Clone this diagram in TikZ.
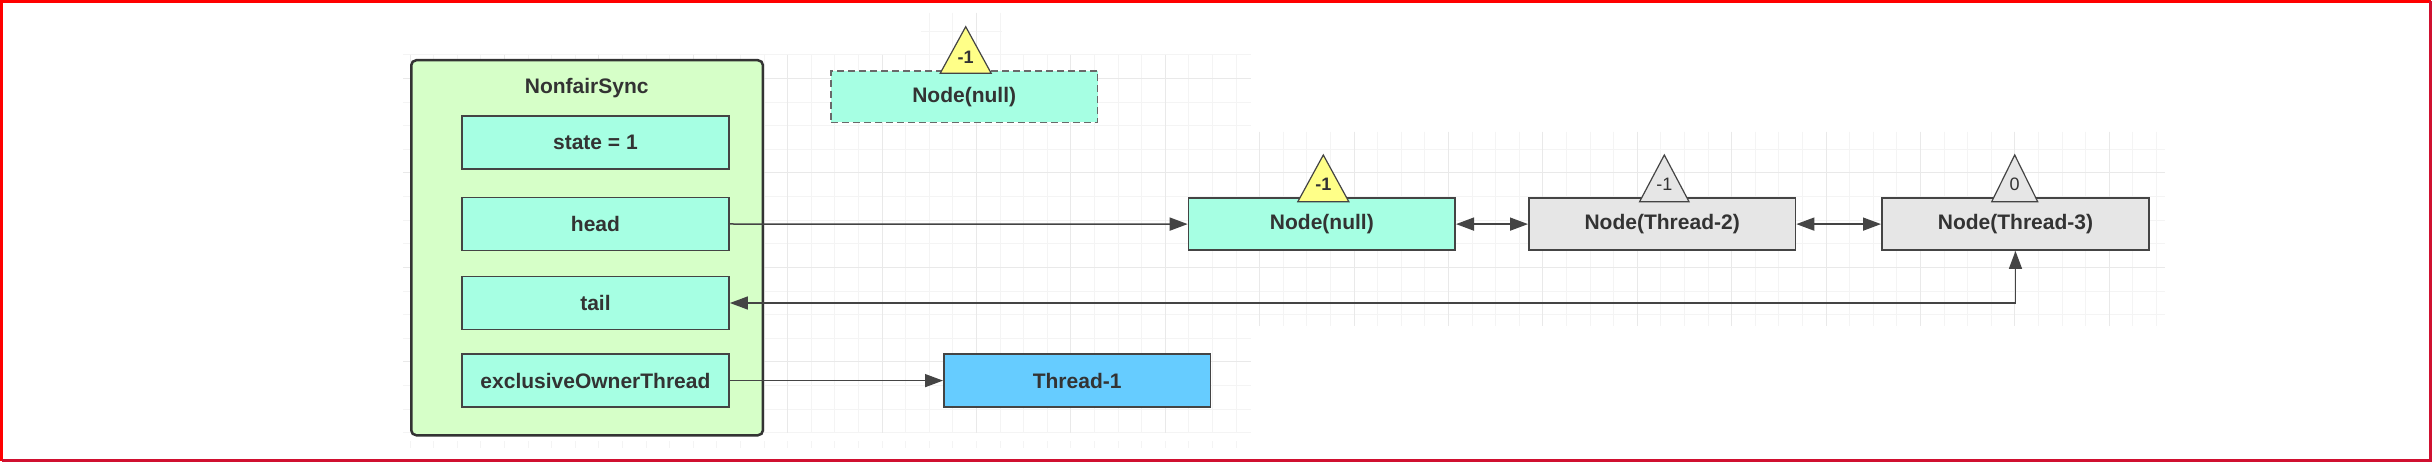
\documentclass[tikz,border=0pt]{standalone}
\usepackage{fontspec}
\setmainfont{Liberation Sans}
\usetikzlibrary{arrows.meta}
\definecolor{txt}{HTML}{333333}
\definecolor{outerfill}{HTML}{D6FFC8}
\definecolor{aqua}{HTML}{A6FFE3}
\definecolor{nodegray}{HTML}{E6E6E6}
\definecolor{threadblue}{HTML}{66CCFF}
\definecolor{triyellow}{HTML}{FFFF88}
\definecolor{edge}{HTML}{444444}
\definecolor{gridminor}{HTML}{F4F4F4}
\definecolor{gridmajor}{HTML}{E9E9E9}
\definecolor{frameA}{HTML}{FF0000}
\definecolor{frameB}{HTML}{D01030}
\begin{document}
\begin{tikzpicture}[x=1pt,y=-1pt,
  gminor/.style={draw=gridminor, line width=1pt},
  gmajor/.style={draw=gridmajor, line width=1pt},
  lbl/.style={font=\fontsize{21}{25}\selectfont\bfseries, text=txt},
  box/.style={draw=edge, line width=1.6pt, inner sep=0pt, anchor=north west,
    font=\fontsize{21}{25}\selectfont\bfseries, text=txt},
  fieldbox/.style={box, fill=aqua, minimum width=267.3pt, minimum height=53pt},
  qbox/.style={box, minimum width=266.7pt, minimum height=52pt},
  tri/.style={draw=edge, line width=1.2pt},
  trilbl/.style={font=\fontsize{18}{20}\selectfont, text=txt},
  conn/.style={draw=edge, line width=1.5pt, -{Triangle[length=18pt,width=13pt]}},
  biconn/.style={draw=edge, line width=1.5pt, {Triangle[length=18pt,width=13pt]}-{Triangle[length=18pt,width=13pt]}}
]
\useasboundingbox (0,0) rectangle (2432,462);
\fill[white] (0,0) rectangle (2432,462);
% background grid
\foreach \k in {0,...,35} {\draw[gminor] ({410+\k*23.6},55) -- ({410+\k*23.6},433);
  \draw[gminor] ({410+\k*23.6},441) -- ({410+\k*23.6},448);}
\foreach \j in {0,...,16} {\draw[gminor] (403,{55+\j*23.6}) -- (1251,{55+\j*23.6});}
\foreach \k in {32,...,74} {\draw[gminor] ({410+\k*23.6},132) -- ({410+\k*23.6},326);}
\foreach \j in {4,...,11} {\draw[gminor] (1148,{55+\j*23.6}) -- (2165,{55+\j*23.6});}
\foreach \k in {22,...,25} {\draw[gminor] ({410+\k*23.6},13) -- ({410+\k*23.6},55);}
\draw[gminor] (921,31.4) -- (1002,31.4);
\foreach \k in {0,4,...,32} {\draw[gmajor] ({410+\k*23.6},55) -- ({410+\k*23.6},433);}
\foreach \k in {36,40,...,72} {\draw[gmajor] ({410+\k*23.6},132) -- ({410+\k*23.6},326);}
\foreach \j in {1,5,9,13} {\draw[gmajor] (403,{55+\j*23.6}) -- (1251,{55+\j*23.6});}
\foreach \j in {5,9} {\draw[gmajor] (1251,{55+\j*23.6}) -- (2165,{55+\j*23.6});}
\draw[gmajor] ({410+24*23.6},13) -- ({410+24*23.6},55);
% frame
\draw[frameA, line width=3pt] (1.5,461) -- (1.5,1.5) -- (2431,1.5);
\draw[frameB, line width=2.5pt] (2430.5,1.5) -- (2430.5,460.5) -- (1.5,460.5);
% NonfairSync container
\node[box, draw=txt, line width=2.5pt, fill=outerfill, rounded corners=5pt,
  minimum width=351.7pt, minimum height=375pt] (sync) at (410,59) {};
\node[lbl] (title) at (586.7,88.3) {NonfairSync};
\node[fieldbox] (state) at (461,115.3) {state = 1};
\node[fieldbox] (head) at (461,196.7) {head};
\node[fieldbox] (tail) at (461,275.7) {tail};
\node[fieldbox] (excl) at (461,353.3) {exclusiveOwnerThread};
% ghost node
\node[qbox, fill=aqua, dashed, dash pattern=on 7pt off 4pt, draw=edge!80,
  minimum height=51.7pt] (ghost) at (830,70) {Node(null)};
% queue nodes
\node[qbox, fill=aqua] (n0) at (1187.7,197.3) {Node(null)};
\node[qbox, fill=nodegray] (n2) at (1528,197.3) {Node(Thread-2)};
\node[qbox, fill=nodegray, minimum width=267.3pt] (n3) at (1881,197.3) {Node(Thread-3)};
\node[qbox, fill=threadblue, minimum height=53pt] (t1) at (943,353.3) {Thread-1};
% triangles
\filldraw[tri, fill=triyellow] (940.2,73.3) -- (965.7,26.7) -- (991.2,73.3) -- cycle;
\node[trilbl, font=\fontsize{18}{20}\selectfont\bfseries] (g1) at (965.7,57) {-1};
\filldraw[tri, fill=triyellow] (1297.8,201.7) -- (1323.3,155) -- (1348.8,201.7) -- cycle;
\node[trilbl, font=\fontsize{18}{20}\selectfont\bfseries] (l0) at (1323.3,184) {-1};
\filldraw[tri, fill=nodegray] (1639.6,201.7) -- (1664.3,155) -- (1689,201.7) -- cycle;
\node[trilbl] (l2) at (1664.3,184) {-1};
\filldraw[tri, fill=nodegray] (1991.7,201.7) -- (2014.7,155) -- (2037.7,201.7) -- cycle;
\node[trilbl] (l3) at (2014.7,184) {0};
% connectors
\draw[conn] (head.east) -- (n0.west);
\draw[biconn] (n0.east) -- (n2.west);
\draw[biconn] (n2.east) -- (n3.west);
\draw[biconn] (tail.east) -- (tail.east -| n3.south) -- (n3.south);
\draw[conn] (excl.east) -- (t1.west);
\end{tikzpicture}
\end{document}
